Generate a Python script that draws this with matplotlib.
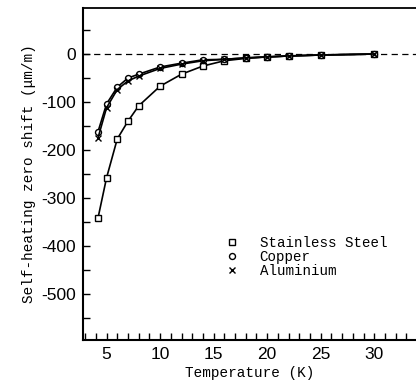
import matplotlib
matplotlib.use('Agg')
import matplotlib.pyplot as plt
from matplotlib.lines import Line2D
from matplotlib.ticker import MultipleLocator

plt.rcParams['axes.unicode_minus'] = False

# temperatures (K) where the zero shift was measured
temps = [4.2, 5, 6, 7, 8, 10, 12, 14, 16, 18, 20, 22, 25, 30]

# self-heating zero shift (um/m)
steel = [-342, -258, -177, -140, -108, -67, -42, -25, -14, -9, -6, -4, -2, 0]
copper = [-162, -104, -69, -50, -42, -27, -19, -12, -11, -8, -6, -4, -2, 0]
alu = [-175, -112, -74, -56, -46, -30, -21, -14, -11, -8, -6, -4, -2, 0]

series = [
    ("Stainless Steel", steel, 's'),
    ("Copper", copper, 'o'),
    ("Aluminium", alu, 'x'),
]

mono = "Liberation Mono"
sans = "Liberation Sans"

fig = plt.figure(figsize=(4.16, 3.86), dpi=100)
ax = fig.add_axes([0.1995, 0.1192, 0.8005, 0.8601])

ax.axhline(0, color='k', linestyle=(0, (5, 3.5)), linewidth=0.9)

for name, vals, mk in series:
    ax.plot(temps, vals, color='k', linewidth=1.2, marker=mk,
            markersize=4.3 if mk != 'x' else 5,
            markerfacecolor='white', markeredgecolor='k', markeredgewidth=1.0)

ax.set_xlim(2.8, 33.9)
ax.set_ylim(-596, 96)

ax.xaxis.set_major_locator(MultipleLocator(5))
ax.xaxis.set_minor_locator(MultipleLocator(1))
ax.yaxis.set_major_locator(MultipleLocator(100))
ax.yaxis.set_minor_locator(MultipleLocator(50))
ax.tick_params(which='both', direction='in', length=5, width=1.0,
               top=False, right=False)
ax.tick_params(axis='both', which='major', labelsize=12.5, pad=5)
for lab in ax.get_xticklabels() + ax.get_yticklabels():
    lab.set_family(sans)

ax.spines['right'].set_visible(False)
ax.spines['left'].set_linewidth(1.5)
ax.spines['bottom'].set_linewidth(1.5)
ax.spines['top'].set_linewidth(1.3)

ax.set_xlabel("Temperature (K)", family=mono, fontsize=10.4, labelpad=3)
ax.set_ylabel("Self-heating zero shift (\u03bcm/m)", family=mono,
              fontsize=10.4, labelpad=4)

handles = [Line2D([], [], linestyle='none', marker=mk, color='k',
                  markerfacecolor='white', markersize=4.3, markeredgewidth=1.0)
           for _, _, mk in series]
ax.legend(handles, [s[0] for s in series], loc='center left',
          bbox_to_anchor=(0.405, 0.25), frameon=False, handlelength=1.0,
          handletextpad=1.45, labelspacing=0.0, borderpad=0,
          prop={'family': mono, 'size': 10.2})

fig.savefig('out.png', dpi=100)
